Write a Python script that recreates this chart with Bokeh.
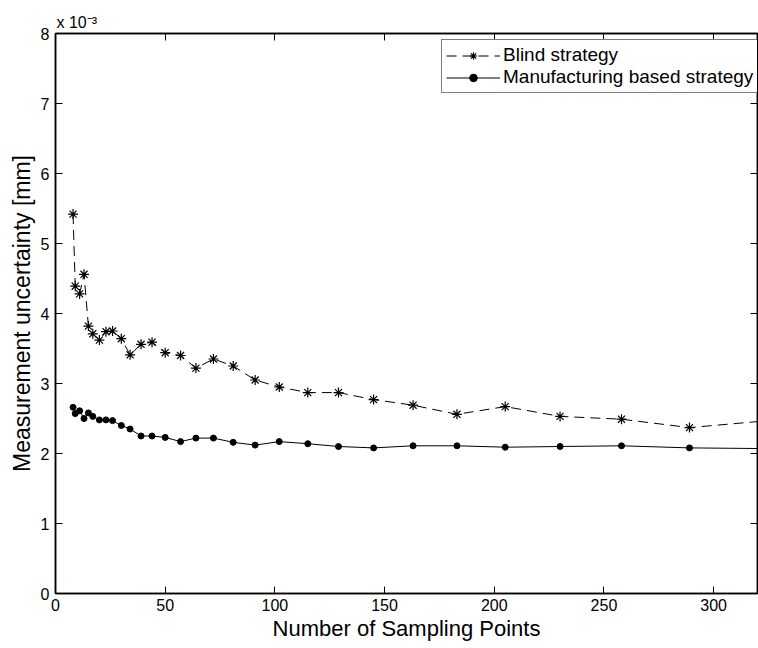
from bokeh.plotting import figure
from bokeh.models import FixedTicker, Range1d, Legend, LegendItem, LinearAxis, Title
from bokeh.embed import file_html
from bokeh.resources import INLINE

# Number of sampling points (x) and measurement uncertainty in units of 1e-3 mm
n_points = [8, 9, 11, 13, 15, 17, 20, 23, 26, 30, 34, 39, 44, 50, 57, 64, 72, 81,
            91, 102, 115, 129, 145, 163, 183, 205, 230, 258, 289, 325]
blind = [5.42, 4.39, 4.28, 4.56, 3.82, 3.71, 3.62, 3.74, 3.75, 3.64,
         3.41, 3.56, 3.59, 3.44, 3.40, 3.22, 3.35, 3.25, 3.05, 2.95,
         2.87, 2.87, 2.77, 2.69, 2.56, 2.67, 2.53, 2.49, 2.37, 2.47]
manufacturing = [2.66, 2.57, 2.61, 2.50, 2.58, 2.53, 2.48, 2.48, 2.47, 2.40,
                 2.35, 2.25, 2.25, 2.23, 2.17, 2.22, 2.22, 2.16, 2.12, 2.17,
                 2.14, 2.10, 2.08, 2.11, 2.11, 2.09, 2.10, 2.11, 2.08, 2.07]
x_ticks = [0, 50, 100, 150, 200, 250, 300]
y_ticks = [0, 1, 2, 3, 4, 5, 6, 7, 8]
series_names = ["Blind strategy", "Manufacturing based strategy"]
scale_text = "x 10\u207b\u00b3"

FONT = "Liberation Sans"

p = figure(width=758, height=648, x_range=Range1d(0, 320), y_range=Range1d(0, 8),
           output_backend="svg", toolbar_location=None,
           min_border_left=55, min_border_right=1, min_border_top=33, min_border_bottom=55)
p.background_fill_color = "white"
p.border_fill_color = "white"
p.outline_line_color = "black"
p.outline_line_width = 1.5
p.xgrid.visible = False
p.ygrid.visible = False

def style_axis(ax, labels=True):
    ax.axis_line_color = "black"
    ax.axis_line_width = 1.5
    ax.major_tick_in = 7
    ax.major_tick_out = 0
    ax.major_tick_line_color = "black"
    ax.minor_tick_line_color = None
    ax.major_label_text_font = FONT
    if labels:
        ax.major_label_text_font_size = "16px"
        ax.major_label_text_color = "black"
    else:
        ax.major_label_text_font_size = "1px"
        ax.major_label_text_color = None
        ax.major_label_standoff = 0

xa = p.xaxis[0]
ya = p.yaxis[0]
xa.ticker = FixedTicker(ticks=x_ticks)
ya.ticker = FixedTicker(ticks=y_ticks)
style_axis(xa)
style_axis(ya)
xa.major_label_standoff = 5
ya.major_label_standoff = 6
xa.axis_label = "Number of Sampling Points"
ya.axis_label = "Measurement uncertainty [mm]"
for ax in (xa, ya):
    ax.axis_label_text_font = FONT
    ax.axis_label_text_font_style = "normal"
    ax.axis_label_text_color = "black"
xa.axis_label_text_font_size = "22px"
ya.axis_label_text_font_size = "23px"
xa.axis_label_standoff = 2
ya.axis_label_standoff = 3

top = LinearAxis(ticker=FixedTicker(ticks=x_ticks))
right = LinearAxis(ticker=FixedTicker(ticks=y_ticks))
style_axis(top, labels=False)
style_axis(right, labels=False)
p.add_layout(top, "above")
p.add_layout(right, "right")

p.add_layout(Title(text=scale_text, align="left", offset=1, standoff=5,
                   text_font=FONT, text_font_size="16px", text_font_style="normal",
                   text_color="black"), "above")

l1 = p.line(n_points, blind, line_color="black", line_width=1, line_dash="10 6")
s1 = p.scatter(n_points, blind, marker="asterisk", size=10, line_color="black", line_width=1.2)
l2 = p.line(n_points, manufacturing, line_color="black", line_width=1)
s2 = p.scatter(n_points, manufacturing, marker="circle", size=6, line_color="black",
               fill_color="black")

legend = Legend(items=[LegendItem(label=series_names[0], renderers=[l1, s1]),
                       LegendItem(label=series_names[1], renderers=[l2, s2])],
                location=(386, 500))
legend.border_line_color = "black"
legend.border_line_width = 1
legend.background_fill_color = "white"
legend.background_fill_alpha = 1
legend.label_text_font = FONT
legend.label_text_font_size = "19px"
legend.label_text_color = "black"
legend.glyph_width = 54
legend.glyph_height = 19
legend.label_height = 20
legend.label_standoff = 3
legend.padding = 4
legend.spacing = 0
legend.margin = 0
p.add_layout(legend, "center")

open("out.html", "w").write(file_html(p, INLINE))
